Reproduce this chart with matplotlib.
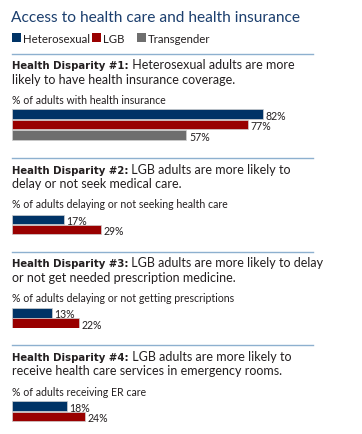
import matplotlib.pyplot as plt
from matplotlib.patches import Rectangle

W, H = 362, 435

title = "Access to health care and health insurance"
groups = ["Heterosexual", "LGB", "Transgender"]
colors = ["#003366", "#990000", "#6e6e6e"]

bold_parts = ["Health Disparity #1:", "Health Disparity #2:",
              "Health Disparity #3:", "Health Disparity #4:"]
line1_rest = [" Heterosexual adults are more",
              " LGB adults are more likely to",
              " LGB adults are more likely to delay",
              " LGB adults are more likely to"]
line2 = ["likely to have health insurance coverage.",
         "delay or not seek medical care.",
         "or not get needed prescription medicine.",
         "receive health care services in emergency rooms."]
measures = ["% of adults with health insurance",
            "% of adults delaying or not seeking health care",
            "% of adults delaying or not getting prescriptions",
            "% of adults receiving ER care"]

insurance = [82, 77, 57]
delay_care = [17, 29]
delay_rx = [13, 22]
er_care = [18, 24]
values = [insurance, delay_care, delay_rx, er_care]

# layout in pixels from the top of the picture
sep_y = [55, 159, 253, 346]
head_base = [69, 174, 267, 361]
measure_base = [104, 208, 302, 396]
bar_top = [110, 215.5, 309, 402]
pitch = [10.7, 10.3, 10.3, 10.5]
left_px, full_px = 12, 306

REG = "Lato"
BOLD = "DejaVu Sans"
TXT = "#231f20"

fig = plt.figure(figsize=(W / 100, H / 100), dpi=100)
renderer = fig.canvas.get_renderer()


def fx(x):
    return x / W


def fy(y):
    return 1 - y / H


fig.text(fx(11), fy(21.5), title, family=REG, fontsize=11.2, color="#1c3f6e",
         va="baseline")

# legend
leg_x = [12, 92, 137]
for g, c, x in zip(groups, colors, leg_x):
    fig.add_artist(Rectangle((fx(x), fy(43)), 9 / W, 9 / H, transform=fig.transFigure,
                             facecolor=c, edgecolor="none"))
    fig.text(fx(x + 11), fy(43), g, family=REG, fontsize=8.2, color=TXT, va="baseline")

for i in range(4):
    fig.add_artist(plt.Line2D([fx(12), fx(313)], [fy(sep_y[i])] * 2,
                              transform=fig.transFigure, color="#8db0cf", lw=1))
    t = fig.text(fx(12), fy(head_base[i]), bold_parts[i], family=BOLD, weight="bold",
                 fontsize=7.3, color=TXT, va="baseline")
    w = t.get_window_extent(renderer).width
    fig.text(fx(12 + w), fy(head_base[i]), line1_rest[i], family=REG, fontsize=9,
             color=TXT, va="baseline")
    fig.text(fx(12), fy(head_base[i] + 14.5), line2[i], family=REG, fontsize=9,
             color=TXT, va="baseline")
    fig.text(fx(12), fy(measure_base[i]), measures[i], family=REG, fontsize=7.6,
             color=TXT, va="baseline")

    vals = values[i]
    n = len(vals)
    top = bar_top[i] - (pitch[i] - 9.5) / 2
    ax = fig.add_axes([fx(left_px), fy(top + n * pitch[i]), full_px / W, n * pitch[i] / H])
    ax.barh(range(n), vals, height=9.5 / pitch[i], color=colors[:n],
            edgecolor="#cfcfcf", linewidth=0.5)
    for j, v in enumerate(vals):
        ax.text(v + 0.8, j + 0.12, f"{v}%", family=REG, fontsize=7.6, color=TXT,
                va="center", ha="left")
    ax.set_xlim(0, 100)
    ax.set_ylim(n - 0.5, -0.5)
    ax.axis("off")

fig.savefig("out.png", dpi=100)
